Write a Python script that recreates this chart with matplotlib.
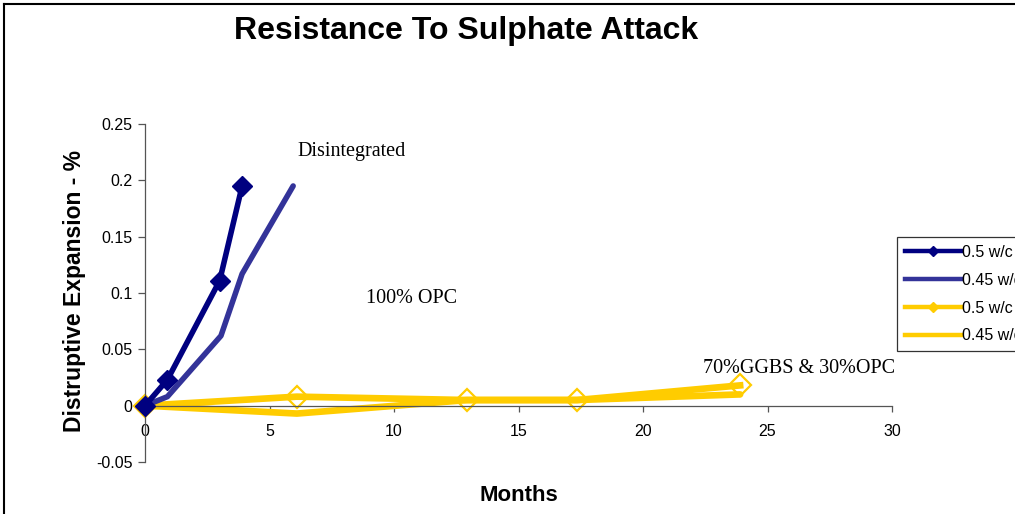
import matplotlib
matplotlib.use("Agg")
import matplotlib.pyplot as plt
from matplotlib.lines import Line2D
from matplotlib.ticker import FuncFormatter

# data
opc_50_x = [0, 0.9, 3.0, 3.9]
opc_50_y = [0, 0.023, 0.111, 0.195]
opc_45_x = [0, 0.9, 3.05, 3.9, 5.95]
opc_45_y = [0, 0.008, 0.062, 0.117, 0.195]
ggbs_50_x = [0, 6.1, 12.95, 17.35, 23.9]
ggbs_50_y = [0, 0.008, 0.005, 0.005, 0.018]
ggbs_45_x = [0, 6.1, 12.95, 17.35, 23.9]
ggbs_45_y = [0, -0.007, 0.005, 0.005, 0.010]

labels = ["0.5 w/c", "0.45 w/c", "0.5 w/c", "0.45 w/c"]
NAVY = "#000080"
BLUE = "#333399"
YELLOW = "#FFCC00"

plt.rcParams["font.family"] = ["Liberation Sans", "DejaVu Sans"]

fig = plt.figure(figsize=(10.15, 5.14), dpi=100)
ax = fig.add_axes([145 / 1015, 52 / 514, 747 / 1015, 338 / 514])

# yellow series sit underneath so the navy diamond at the origin stays visible
ax.plot(opc_50_x, opc_50_y, color=NAVY, lw=4, marker="D", ms=10,
        mfc=NAVY, mec=NAVY, solid_joinstyle="round", zorder=4, clip_on=False)
ax.plot(opc_45_x, opc_45_y, color=BLUE, lw=4, solid_capstyle="round",
        zorder=3, clip_on=False)
ax.plot(ggbs_50_x, ggbs_50_y, color=YELLOW, lw=4.8, marker="D", ms=11.5,
        mfc="none", mec=YELLOW, mew=1.6, zorder=2, clip_on=False)
ax.plot(ggbs_45_x, ggbs_45_y, color=YELLOW, lw=4.8, solid_capstyle="round",
        zorder=2, clip_on=False)

ax.set_xlim(0, 30)
ax.set_ylim(-0.05, 0.25)
ax.set_xticks(range(0, 31, 5))
ax.set_yticks([-0.05, 0, 0.05, 0.1, 0.15, 0.2, 0.25])
ax.yaxis.set_major_formatter(FuncFormatter(lambda v, p: "%g" % round(v, 3)))

for s in ["top", "right"]:
    ax.spines[s].set_visible(False)
ax.spines["bottom"].set_position(("data", 0))
for s in ["left", "bottom"]:
    ax.spines[s].set_color("#555555")
    ax.spines[s].set_linewidth(0.9)
ax.tick_params(axis="x", direction="out", length=4.5, width=0.9,
               color="#555555", labelsize=11.5, pad=9)
ax.tick_params(axis="y", direction="out", length=5, width=0.9,
               color="#555555", labelsize=11.5, pad=4)

ax.set_xlabel("Months", fontsize=16, fontweight="bold", va="center")
ax.xaxis.set_label_coords(0.5, -0.10)
ax.set_ylabel("Distruptive Expansion - %", fontsize=16.5, fontweight="bold",
              va="center")
ax.yaxis.set_label_coords(-0.094, 0.506)

serif = ["Liberation Serif", "DejaVu Serif"]
ax.text(6.14, 0.2256, "Disintegrated", family=serif, fontsize=14.5,
        ha="left", va="center")
ax.text(8.88, 0.095, "100% OPC", family=serif, fontsize=14.5,
        ha="left", va="center")
ax.text(22.4, 0.033, "70%GGBS & 30%OPC", family=serif, fontsize=14.5,
        ha="left", va="center")

fig.text(466 / 1015, 1 - 31 / 514, "Resistance To Sulphate Attack",
         fontsize=23, fontweight="bold", ha="center", va="center")

handles = [
    Line2D([], [], color=NAVY, lw=3.2, marker="D", ms=5),
    Line2D([], [], color=BLUE, lw=3.2),
    Line2D([], [], color=YELLOW, lw=3.2, marker="D", ms=5),
    Line2D([], [], color=YELLOW, lw=3.2),
]
leg = fig.legend(handles, labels, loc="upper left",
                 bbox_to_anchor=(897 / 1015, 1 - 237 / 514),
                 fontsize=11.5, frameon=True, fancybox=False,
                 handlelength=3.5, handletextpad=0.1, labelspacing=0.8,
                 borderpad=0.5, borderaxespad=0)
leg.get_frame().set_edgecolor("black")
leg.get_frame().set_linewidth(0.9)

# chart area border (right/bottom edges fall outside the picture)
fig.add_artist(Line2D([4 / 1015, 4 / 1015], [0, 1 - 4 / 514],
                      transform=fig.transFigure, color="black", lw=1.5))
fig.add_artist(Line2D([4 / 1015, 1], [1 - 4 / 514, 1 - 4 / 514],
                      transform=fig.transFigure, color="black", lw=1.5))

fig.savefig("out.png", dpi=100)
